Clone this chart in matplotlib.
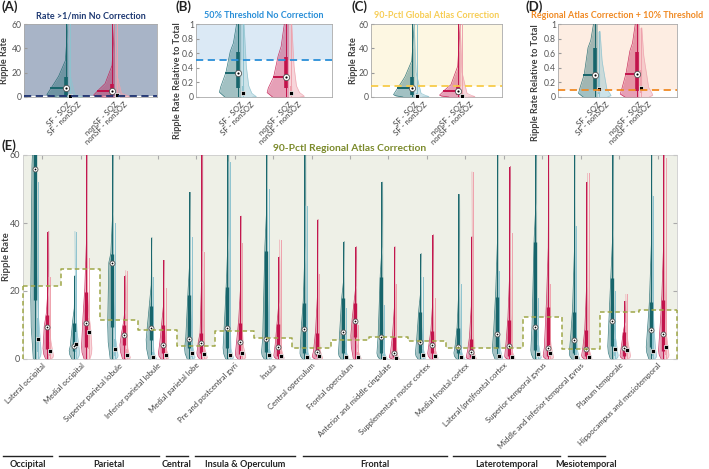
import numpy as np
import matplotlib
matplotlib.use('Agg')
import matplotlib.pyplot as plt
import matplotlib.transforms as mtransforms

plt.rcParams['font.family'] = ['Lato', 'DejaVu Sans']

# ---------------- data: summary panels (A-D) ----------------
groups = ['SF - SOZ', 'SF - nonSOZ', 'nonSF - SOZ', 'nonSF - nonSOZ']

A_med = [7.2, 0.8, 5.2, 1.5]
A_q1 = [2.0, 0.2, 1.5, 0.3]
A_q3 = [16.7, 2.0, 11.0, 3.0]
A_max = [60, 60, 60, 60]
A_thr = 1.0

B_med = [0.33, 0.05, 0.27, 0.06]
B_q1 = [0.13, 0.01, 0.12, 0.02]
B_q3 = [0.62, 0.15, 0.55, 0.15]
B_max = [1.0, 1.0, 1.0, 1.0]
B_thr = 0.5

C_med = [7.2, 1.0, 5.0, 1.0]
C_q1 = [2.0, 0.3, 1.5, 0.3]
C_q3 = [16.5, 3.0, 10.0, 3.0]
C_max = [60, 60, 60, 60]
C_thr = 9.0

D_med = [0.30, 0.105, 0.31, 0.13]
D_q1 = [0.10, 0.04, 0.08, 0.05]
D_q3 = [0.67, 0.32, 0.62, 0.37]
D_max = [1.0, 0.9, 1.0, 0.95]
D_thr = 0.1

# ---------------- data: regional panel (E) ----------------
regions = ['Lateral occipital', 'Medial occipital', 'Superior parietal lobule',
           'Inferior parietal lobule', 'Medial parietal lobe', 'Pre and postcentral gyri',
           'Insula', 'Central operculum', 'Frontal operculum', 'Anterior and middle cingulate',
           'Supplementary motor cortex', 'Medial frontal cortex', 'Lateral (pre)frontal cortex',
           'Superior temporal gyrus', 'Middle and inferior temporal gyrus', 'Planum temporale',
           'Hippocampus and mesiotemporal']
E_thr = [21.6, 26.6, 11.5, 8.5, 3.8, 8.2, 6.3, 3.2, 5.6, 6.6, 5.4, 3.3, 3.3, 12.4, 2.9, 13.9, 14.4]

sf_soz_med = [56, 3.8, 28.3, 9.2, 6.0, 9.2, 5.8, 8.7, 7.8, 6.4, 5.1, 3.6, 7.3, 9.3, 5.6, 11.2, 8.5]
sf_soz_q1 = [17.4, 2.5, 9.5, 5.6, 3.1, 3.1, 2.0, 1.7, 1.7, 1.7, 1.7, 1.7, 3.1, 2.6, 1.7, 3.7, 3.5]
sf_soz_q3 = [70, 10.5, 31, 15.7, 18.8, 21.3, 31.8, 16.4, 17.8, 24.2, 13.9, 9.0, 18.3, 34.5, 13.9, 23.7, 16.7]
sf_soz_max = [75, 24.5, 70, 35.7, 49, 70, 70, 70, 34.5, 52, 31, 48.4, 70, 70, 70, 70, 70]

sf_non_med = [6.0, 4.3, 3.0, 0.5, 1.9, 1.2, 1.2, 0.7, 0.7, 0.3, 1.2, 0.7, 0.9, 1.5, 0.7, 2.8, 2.5]
sf_non_q1 = [2.0, 2.0, 1.0, 0.2, 0.5, 0.4, 0.4, 0.2, 0.2, 0.1, 0.4, 0.2, 0.3, 0.5, 0.2, 1.0, 1.0]
sf_non_q3 = [12, 8, 6, 2, 4, 3, 3, 2, 2, 1.5, 3, 2, 3, 4, 3, 6, 8]
sf_non_max = [52, 37.5, 40, 24, 36, 58, 50, 45, 15, 16, 24, 22, 26, 18, 39, 20, 48]

nsf_soz_med = [9.5, 10.7, 7.0, 4.1, 4.6, 5.1, 3.6, 2.2, 11.2, 1.7, 4.1, 2.0, 3.9, 3.1, 3.0, 3.3, 7.5]
nsf_soz_q1 = [3.0, 3.6, 4.0, 1.7, 1.7, 1.5, 1.0, 0.8, 6.6, 0.6, 1.7, 0.5, 0.8, 1.0, 1.0, 1.0, 2.5]
nsf_soz_q3 = [13, 19.8, 10, 10, 7.7, 10.7, 10.2, 7.7, 16.4, 6.6, 8.3, 6.0, 11.5, 15.4, 8.5, 8.0, 17.4]
nsf_soz_max = [37.5, 70, 24.5, 29, 70, 42, 30, 41, 33, 33, 36.5, 36, 56.6, 70, 52, 17, 70]

nsf_non_med = [2.5, 8.0, 1.2, 1.2, 1.4, 1.9, 0.9, 0.9, 0.7, 0.3, 0.9, 0.5, 0.7, 1.7, 0.7, 2.6, 3.4]
nsf_non_q1 = [1.0, 3.0, 0.4, 0.4, 0.5, 0.6, 0.3, 0.3, 0.2, 0.1, 0.3, 0.2, 0.2, 0.5, 0.2, 1.0, 1.2]
nsf_non_q3 = [5, 12, 3, 3, 3, 4, 2.5, 2.5, 2, 1.5, 2.5, 2, 2, 4, 2.5, 5, 7]
nsf_non_max = [24, 29.6, 26, 20.8, 31.6, 34, 35, 25, 10, 22, 18, 55, 37, 22, 54.6, 19, 59]

brackets = ['Occipital', 'Parietal', 'Central', 'Insula & Operculum', 'Frontal',
            'Laterotemporal', 'Mesiotemporal']

# ---------------- styles / layout ----------------
COL = ['#17656b', '#8fc3cf', '#c2134b', '#eea2ad']
SOZ = [True, False, True, False]
SIDE = [-1, 1, -1, 1]
TXT = '#404040'
PROFILE_RATE = [0.55, 0.9, 1.0, 0.8, 0.45, 0.12, 0.0]
PROFILE_REL = [0.75, 1.0, 0.95, 0.7, 0.5, 0.35, 0.2]
bracket_x0 = [-0.52, 0.94, 3.71, 4.47, 7.27, 11.19, 14.16]
bracket_x1 = [0.75, 3.53, 4.29, 7.06, 11.01, 13.97, 15.12]

W_PX, H_PX = 709, 469
fig = plt.figure(figsize=(7.09, 4.69), dpi=100)


def axes_px(l, t, r, b):
    return fig.add_axes([l / W_PX, 1 - b / H_PX, (r - l) / W_PX, (b - t) / H_PX])


def violin(ax, x, q1, med, q3, vmax, w0, side, color, soz, off, boxlw, profile,
           medline=False, msz=4):
    ys = np.linspace(0, vmax, 300)
    lv = np.array([0, 0.5 * q1, q1, med, q3, q3 + 0.3 * (vmax - q3), vmax], dtype=float)
    lv = np.maximum.accumulate(lv) + np.arange(7) * 1e-6 * vmax
    wv = np.array(profile) * w0
    w = np.interp(ys, lv, wv)
    xs = x + side * w
    ax.fill_betweenx(ys, x, xs, color=color, alpha=0.4 if soz else 0.45, lw=0, zorder=3)
    ax.plot(xs, ys, color=color, lw=0.5, alpha=0.85, zorder=3)
    xb = x + side * off
    ax.plot([xb, xb], [0, vmax], color=color, lw=0.7, zorder=4)
    ax.plot([xb, xb], [q1, q3], color=color, lw=boxlw if soz else boxlw * 0.6,
            solid_capstyle='butt', zorder=5)
    if soz:
        if medline:
            wm = np.interp(med, lv, wv)
            ax.plot([x - wm, xb], [med, med], color=color, lw=1.4, zorder=5)
        ax.plot([xb], [med], marker='o', ms=msz, mfc='white', mec='#555555', mew=0.6, zorder=6)
        ax.plot([xb], [med], marker='o', ms=msz * 0.35, mfc='black', mec='black', mew=0, zorder=7)
    else:
        ax.plot([xb], [med], marker='s', ms=msz * 0.7, mfc='black', mec='white', mew=0.5, zorder=6)


def top_panel(ax, med, q1, q3, vmax, thr, ymax, yticks, bg, lc, title, tc, ylabel,
              letter, letter_x, ylab_x, ylab_y, profile):
    ax.set_xlim(0.06, 2.91)
    ax.set_ylim(0, ymax)
    ax.fill_between([0.06, 2.91], thr, ymax, color=bg, lw=0, zorder=0)
    ax.axhline(thr, color=lc, lw=1.3, ls=(0, (4, 2.5)), zorder=8)
    pos = [1, 1, 2, 2]
    for g in range(4):
        violin(ax, pos[g], q1[g], med[g], q3[g], vmax[g], 0.45 if SOZ[g] else 0.33,
               SIDE[g], COL[g], SOZ[g], 0.05, 2.6, profile, medline=True, msz=4.5)
    ax.set_xticks([1.0, 1.2, 2.0, 2.2])
    ax.set_xticklabels(groups, rotation=45, ha='right', rotation_mode='anchor',
                       fontsize=5.6, color=TXT)
    shift = mtransforms.ScaledTranslation(0, -4 / 100, fig.dpi_scale_trans)
    for k, lab in enumerate(ax.get_xticklabels()):
        if k % 2 == 1:
            lab.set_transform(lab.get_transform() + shift)
    ax.tick_params(axis='x', length=0, pad=3)
    ax.set_yticks(yticks)
    ax.set_yticklabels([('%g' % t) for t in yticks], fontsize=6.2, color='#555555')
    ax.tick_params(axis='y', length=2, direction='in', pad=1.5, color='#999999')
    for s in ax.spines.values():
        s.set_color('#aaaaaa')
        s.set_linewidth(0.6)
    ax.set_title(title, color=tc, fontsize=6.5, fontweight='bold', pad=4)
    ax.set_ylabel(ylabel, fontsize=6.6, fontweight='bold', color=TXT)
    ax.yaxis.set_label_coords(ylab_x, ylab_y)
    fig.text(letter_x / W_PX, 1 - 7 / H_PX, letter, fontsize=9.5, fontweight='bold',
             color='#222222', ha='left', va='center')


axA = axes_px(24, 24, 157, 97)
top_panel(axA, A_med, A_q1, A_q3, A_max, A_thr, 60, [0, 20, 40, 60], '#a8b4c7', '#1b2f6e',
          'Rate >1/min No Correction', '#1f3a73', 'Ripple Rate', '(A)', 2, -0.11, 0.5,
          PROFILE_RATE)
axB = axes_px(196, 24, 332, 97)
top_panel(axB, B_med, B_q1, B_q3, B_max, B_thr, 1, [0, 0.2, 0.4, 0.6, 0.8, 1], '#dbe9f5', '#2a8fd8',
          '50% Threshold No Correction', '#2a8fd8', 'Ripple Rate Relative to Total', '(B)',
          176, -0.105, 0.22, PROFILE_REL)
axC = axes_px(371, 24, 502, 97)
top_panel(axC, C_med, C_q1, C_q3, C_max, C_thr, 60, [0, 20, 40, 60], '#fdf7e2', '#f7cb4a',
          '90-Pctl Global Atlas Correction', '#f7cd55', 'Ripple Rate', '(C)', 351, -0.1, 0.5,
          PROFILE_RATE)
axD = axes_px(558, 24, 677, 97)
top_panel(axD, D_med, D_q1, D_q3, D_max, D_thr, 1, [0, 0.2, 0.4, 0.6, 0.8, 1], '#fdede2', '#f08a24',
          'Regional Atlas Correction + 10% Threshold', '#f08a24', 'Ripple Rate Relative to Total',
          '(D)', 526, -0.15, 0.2, PROFILE_REL)

# ---------------- panel E ----------------
axE = axes_px(23, 155, 677, 359)
n = len(regions)
axE.set_xlim(0, n)
axE.set_ylim(0, 60)
edges = np.arange(n + 1)
thr_ext = np.append(E_thr, E_thr[-1])
axE.fill_between(edges, thr_ext, 60, step='post', color='#eef0e7', lw=0, zorder=0)
axE.step(edges, thr_ext, where='post', color='#9fa748', lw=1.1, ls=(0, (3, 2)), zorder=8)
axE.plot([0, 0], [0, E_thr[0]], color='#9fa748', lw=1.1, ls=(0, (3, 2)), zorder=8, clip_on=False)
axE.plot([n, n], [0, E_thr[-1]], color='#9fa748', lw=1.1, ls=(0, (3, 2)), zorder=8, clip_on=False)

E_sets = [(sf_soz_q1, sf_soz_med, sf_soz_q3, sf_soz_max),
          (sf_non_q1, sf_non_med, sf_non_q3, sf_non_max),
          (nsf_soz_q1, nsf_soz_med, nsf_soz_q3, nsf_soz_max),
          (nsf_non_q1, nsf_non_med, nsf_non_q3, nsf_non_max)]
pair_off = [0.35, 0.35, 0.67, 0.67]
for i in range(n):
    for g in range(4):
        q1, md, q3, mx = (E_sets[g][k][i] for k in range(4))
        violin(axE, i + pair_off[g], q1, md, q3, mx, 0.15 if SOZ[g] else 0.12,
               SIDE[g], COL[g], SOZ[g], 0.035, 2.4, PROFILE_RATE, msz=3.6)

axE.set_yticks([0, 20, 40, 60])
axE.set_yticklabels(['0', '20', '40', '60'], fontsize=6.5, color='#555555')
axE.tick_params(axis='y', length=3, direction='in', left=True, right=True, color='#aaaaaa', pad=2)
axE.set_xticks(np.arange(n) + 0.5)
axE.set_xticklabels(regions, rotation=45, ha='right', rotation_mode='anchor', fontsize=5.6, color=TXT)
axE.tick_params(axis='x', bottom=False, top=True, direction='in', length=3, color='#aaaaaa', pad=2)
for s in axE.spines.values():
    s.set_color('#cccccc')
    s.set_linewidth(0.6)
axE.set_title('90-Pctl Regional Atlas Correction', color='#7b8a2b', fontsize=7.4,
              fontweight='bold', pad=3)
axE.set_ylabel('Ripple Rate', fontsize=6.8, fontweight='bold', color=TXT)
axE.yaxis.set_label_coords(-0.019, 0.5)
fig.text(2 / W_PX, 1 - 146 / H_PX, '(E)', fontsize=9.5, fontweight='bold', color='#222222',
         ha='left', va='center')

trans = mtransforms.blended_transform_factory(axE.transData, axE.transAxes)
for name, x0, x1 in zip(brackets, bracket_x0, bracket_x1):
    axE.plot([x0, x1], [-0.475, -0.475], color='#222222', lw=1.0, transform=trans, clip_on=False)
    axE.text((x0 + x1) / 2, -0.515, name, transform=trans, ha='center', va='center',
             fontsize=6.6, fontweight='bold', color='#222222')

fig.savefig('out.png', dpi=100)
